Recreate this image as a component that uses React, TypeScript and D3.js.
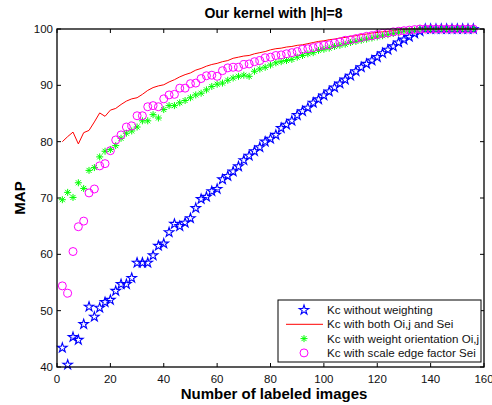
import React from 'react';
import * as d3 from 'd3';

// number of labeled images (x positions of every sample)
const labeled = [
  2, 4, 6, 8, 10, 12, 14, 16, 18, 20, 22, 24, 26, 28, 30, 32, 34, 36, 38, 40,
  42, 44, 46, 48, 50, 52, 54, 56, 58, 60, 62, 64, 66, 68, 70, 72, 74, 76, 78, 80,
  82, 84, 86, 88, 90, 92, 94, 96, 98, 100, 102, 104, 106, 108, 110, 112, 114, 116, 118, 120,
  122, 124, 126, 128, 130, 132, 134, 136, 138, 140, 142, 144, 146, 148, 150, 152, 154, 156,
];

const noWeight = [
  43.4, 40.4, 45.3, 44.8, 47.6, 50.7, 48.9, 50.5, 51.5, 51.9, 53.5, 54.7, 54.7, 55.8, 58.5, 58.5, 58.5, 59.8, 61.5, 61.9,
  63.9, 65.4, 65.0, 65.6, 66.4, 68.2, 69.8, 70.2, 71.2, 71.6, 73.3, 73.9, 74.7, 75.6, 76.7, 77.5, 78.3, 79.0, 80.0, 80.5,
  81.2, 82.4, 83.0, 83.7, 84.7, 85.4, 86.0, 86.9, 87.5, 88.2, 88.9, 89.6, 90.3, 91.0, 91.7, 92.5, 93.2, 93.8, 94.4, 95.0,
  95.7, 96.3, 96.9, 97.6, 98.1, 98.6, 99.2, 99.6, 100, 100, 100, 100, 100, 100, 100, 100, 100, 100,
];

const bothWeights = [
  80.0, 80.9, 81.7, 79.6, 81.6, 82.0, 83.5, 85.1, 84.5, 85.6, 85.9, 86.6, 87.2, 87.6, 87.8, 88.4, 89.1, 89.6, 89.9, 90.1,
  90.6, 91.0, 91.5, 91.9, 92.2, 92.7, 93.0, 93.4, 93.7, 93.9, 94.2, 94.4, 94.8, 95.0, 95.2, 95.3, 95.6, 95.8, 96.0, 96.3,
  96.5, 96.6, 96.8, 96.9, 97.1, 97.2, 97.4, 97.6, 97.8, 97.9, 98.1, 98.2, 98.4, 98.5, 98.7, 98.8, 99.0, 99.1, 99.3, 99.4,
  99.5, 99.6, 99.7, 99.8, 99.9, 100, 100, 100, 100, 100, 100, 100, 100, 100, 100, 100, 100, 100,
];

const orientation = [
  69.7, 71.0, 70.1, 72.7, 71.7, 74.9, 75.4, 77.3, 78.3, 78.6, 79.3, 80.6, 81.5, 81.9, 82.6, 83.7, 83.7, 84.8, 84.2, 85.7,
  86.4, 86.4, 86.9, 87.3, 87.8, 88.3, 88.6, 89.2, 89.8, 90.2, 90.4, 90.9, 91.3, 91.6, 91.8, 91.6, 92.5, 92.9, 93.2, 93.6,
  94.0, 94.2, 94.4, 94.6, 95.0, 95.3, 95.6, 95.8, 96.2, 96.4, 96.6, 96.9, 97.1, 97.3, 97.6, 97.8, 98.0, 98.2, 98.4, 98.6,
  98.8, 99.0, 99.2, 99.4, 99.6, 99.7, 99.8, 100, 100, 100, 100, 100, 100, 100, 100, 100, 100, 100,
];

const scaleEdge = [
  54.4, 53.1, 60.5, 64.9, 65.9, 70.9, 71.6, 75.7, 76.1, 78.4, 80.3, 81.2, 82.6, 82.8, 84.6, 84.6, 86.2, 86.4, 86.2, 87.6,
  88.3, 88.4, 89.5, 89.5, 90.3, 90.4, 91.2, 91.7, 91.8, 91.6, 92.6, 93.1, 93.2, 93.2, 93.7, 93.8, 94.2, 94.4, 94.9, 95.0,
  95.3, 95.4, 95.6, 95.8, 96.0, 96.4, 96.5, 96.7, 96.9, 97.1, 97.2, 97.5, 97.7, 98.0, 98.1, 98.3, 98.5, 98.7, 98.8, 99.0,
  99.2, 99.3, 99.5, 99.6, 99.7, 99.8, 99.9, 100, 100, 100, 100, 100, 100, 100, 100, 100, 100, 100,
];

const xTicks = [0, 20, 40, 60, 80, 100, 120, 140, 160];
const yTicks = [40, 50, 60, 70, 80, 90, 100];

const legendLabels = [
  'Kc without weighting',
  'Kc with both Oi,j and Sei',
  'Kc with weight orientation Oi,j',
  'Kc with scale edge factor Sei',
];

const FONT = '"Liberation Sans", Arial, Helvetica, sans-serif';

const margin = { top: 29, right: 8, bottom: 38, left: 57 };
const W = 492;
const H = 405;
const iw = W - margin.left - margin.right;
const ih = H - margin.top - margin.bottom;

const starPath = d3.symbol(d3.symbolStar, 28)()!;
const asterisk = 'M-3.5,0L3.5,0M0,-3.5L0,3.5M-2.5,-2.5L2.5,2.5M-2.5,2.5L2.5,-2.5';

const Star = ({ x, y }: { x: number; y: number }) => (
  <path d={starPath} transform={`translate(${x},${y})`} fill="none" stroke="#0000ff" strokeWidth={1.1} />
);
const Ast = ({ x, y }: { x: number; y: number }) => (
  <path d={asterisk} transform={`translate(${x},${y})`} fill="none" stroke="#00ff00" strokeWidth={1} />
);
const Ring = ({ x, y }: { x: number; y: number }) => (
  <circle cx={x} cy={y} r={4} fill="none" stroke="#ff00ff" strokeWidth={1} />
);

export default function App() {
  const x = d3.scaleLinear().domain([0, 160]).range([0, iw]);
  const y = d3.scaleLinear().domain([40, 100]).range([ih, 0]);

  const redLine = d3
    .line<number>()
    .x((_, i) => x(labeled[i]))
    .y((d) => y(d))(bothWeights)!;

  const lx = 221;
  const ly = 271;

  return (
    <svg
      width={W}
      height={H}
      style={{ position: 'absolute', left: 0, top: 0, background: '#fff' }}
      fontFamily={FONT}
    >
      <text x={273.5} y={18} textAnchor="middle" fontSize={14} fontWeight="bold">
        Our kernel with |h|=8
      </text>
      <text
        transform={`translate(25,${margin.top + ih / 2}) rotate(-90)`}
        textAnchor="middle"
        fontSize={15}
        fontWeight="bold"
      >
        MAP
      </text>
      <text x={274} y={399} textAnchor="middle" fontSize={15} fontWeight="bold">
        Number of labeled images
      </text>

      <g transform={`translate(${margin.left},${margin.top})`}>
        <rect x={0} y={0} width={iw} height={ih} fill="#fff" />

        {xTicks.map((t) => (
          <g key={`x${t}`}>
            <line x1={x(t)} x2={x(t)} y1={ih} y2={ih - 4} stroke="#000" />
            <line x1={x(t)} x2={x(t)} y1={0} y2={4} stroke="#000" />
            <text x={x(t)} y={ih + 16} textAnchor="middle" fontSize={11.5} fill="#111">
              {t}
            </text>
          </g>
        ))}
        {yTicks.map((t) => (
          <g key={`y${t}`}>
            <line x1={0} x2={4} y1={y(t)} y2={y(t)} stroke="#000" />
            <line x1={iw} x2={iw - 4} y1={y(t)} y2={y(t)} stroke="#000" />
            <text x={-4} y={y(t) + 4} textAnchor="end" fontSize={11.5} fill="#111">
              {t}
            </text>
          </g>
        ))}

        {noWeight.map((v, i) => (
          <Star key={`b${i}`} x={x(labeled[i])} y={y(v)} />
        ))}
        <path d={redLine} fill="none" stroke="#ff0000" strokeWidth={1} />
        {orientation.map((v, i) => (
          <Ast key={`g${i}`} x={x(labeled[i])} y={y(v)} />
        ))}
        {scaleEdge.map((v, i) => (
          <Ring key={`m${i}`} x={x(labeled[i])} y={y(v)} />
        ))}

        <rect x={0} y={0} width={iw} height={ih} fill="none" stroke="#000" strokeWidth={1.3} />

        <g transform={`translate(${lx},${ly})`}>
          <rect x={0} y={0} width={203} height={62} fill="#fff" stroke="#000" strokeWidth={1} />
          {legendLabels.map((lab, i) => {
            const cy = 10 + i * 14.3;
            return (
              <g key={lab}>
                {i === 0 && <Star x={26} y={cy} />}
                {i === 1 && <line x1={8} x2={45} y1={cy} y2={cy} stroke="#ff0000" />}
                {i === 2 && <Ast x={26} y={cy} />}
                {i === 3 && <Ring x={26} y={cy} />}
                <text x={49} y={cy + 4} fontSize={11.6} fill="#111">
                  {lab}
                </text>
              </g>
            );
          })}
        </g>
      </g>
    </svg>
  );
}
